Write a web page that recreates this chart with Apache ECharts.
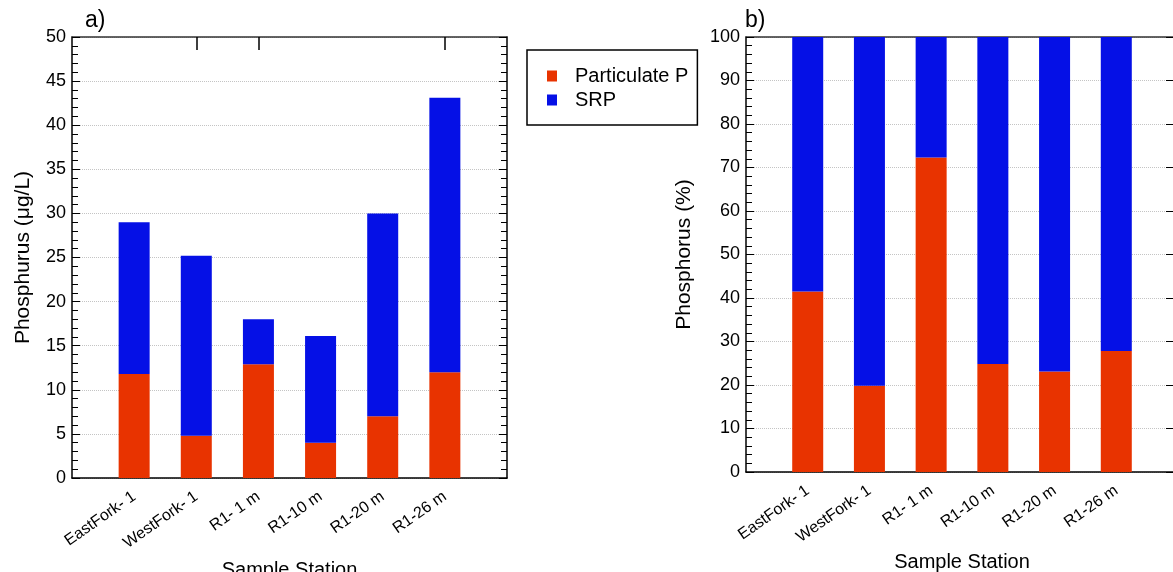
<!DOCTYPE html>
<html>
<head>
<meta charset="utf-8">
<script src="https://cdn.jsdelivr.net/npm/echarts@6/dist/echarts.min.js"></script>
<style>
  html, body { margin: 0; padding: 0; background: #fff; }
  #main { width: 1173px; height: 572px; }
</style>
</head>
<body>
<div id="main"></div>
<script>
// stations (blank slots at both ends keep the half-gap seen in the figure)
const stations = ['EastFork- 1', 'WestFork- 1', 'R1- 1 m', 'R1-10 m', 'R1-20 m', 'R1-26 m'];
const cats = [''].concat(stations, ['']);

// a) concentrations, µg/L
const particulateUg = [11.8, 4.8, 12.9, 4.0, 7.0, 12.0];
const srpUg = [17.2, 20.4, 5.1, 12.1, 23.0, 31.1];

// b) percent of total
const particulatePct = [41.5, 19.8, 72.3, 24.8, 23.1, 27.8];
const srpPct = [58.5, 80.2, 27.7, 75.2, 76.9, 72.2];

// stray tick marks on the top edge of panel a
const topTickSlots = [2, 3, 6];

const RED = '#e83300';
const BLUE = '#0510e6';
const FONT = 'Liberation Sans, Arial, sans-serif';

function pad(arr) { return ['-'].concat(arr, ['-']); }

function bottomAxis(grid, gap) {
  return {
    type: 'category', gridIndex: grid, data: cats, boundaryGap: false, position: 'bottom',
    axisLine: { onZero: false, lineStyle: { color: '#000', width: 1.5 } },
    axisTick: { show: false },
    axisLabel: { interval: 0, rotate: 35, fontSize: 16, color: '#000', fontFamily: FONT, margin: 17 },
    name: 'Sample Station', nameLocation: 'middle', nameGap: gap,
    nameTextStyle: { fontSize: 20, color: '#000', fontFamily: FONT }
  };
}
function topAxis(grid, slots) {
  return {
    type: 'category', gridIndex: grid, data: cats, boundaryGap: false, position: 'top',
    axisLine: { onZero: false, lineStyle: { color: '#333', width: 1.5 } },
    axisTick: {
      show: slots.length > 0, inside: true, length: 13,
      interval: function (idx) { return slots.indexOf(idx) >= 0; },
      lineStyle: { color: '#000', width: 1.5 }
    },
    axisLabel: { show: false }
  };
}
function leftAxis(grid, max, step, name, gap) {
  return {
    type: 'value', gridIndex: grid, min: 0, max: max, interval: step,
    axisLine: { show: true, lineStyle: { color: '#000', width: 1.5 } },
    axisTick: { show: true, inside: true, length: 8, lineStyle: { color: '#000' } },
    minorTick: { show: true, splitNumber: 5, length: 6, lineStyle: { color: '#000' } },
    axisLabel: { fontSize: 18, color: '#000', fontFamily: FONT, margin: 6 },
    splitLine: { show: true, lineStyle: { type: 'dotted', color: '#c4c4c4' } },
    name: name, nameLocation: 'middle', nameRotate: 90, nameGap: gap,
    nameTextStyle: { fontSize: 21, color: '#000', fontFamily: FONT }
  };
}
function rightAxis(grid, max, step, minor, tickLen) {
  return {
    type: 'value', gridIndex: grid, min: 0, max: max, interval: step, position: 'right',
    axisLine: { show: true, lineStyle: { color: '#000', width: 1.5 } },
    axisTick: { show: true, inside: true, length: tickLen, lineStyle: { color: '#000' } },
    minorTick: { show: minor, splitNumber: 5, length: 6, lineStyle: { color: '#000' } },
    axisLabel: { show: false },
    splitLine: { show: false }
  };
}
function bar(name, data, xi, yi, stack, color) {
  return {
    name: name, type: 'bar', stack: stack, data: pad(data),
    xAxisIndex: xi, yAxisIndex: yi, barWidth: 31,
    itemStyle: { color: color }
  };
}

const chart = echarts.init(document.getElementById('main'));
chart.setOption({
  animation: false,
  textStyle: { fontFamily: FONT },
  title: [
    { text: 'a)', left: 80, top: 4, textStyle: { fontSize: 23, fontWeight: 'normal', color: '#000', fontFamily: FONT } },
    { text: 'b)', left: 740, top: 4, textStyle: { fontSize: 23, fontWeight: 'normal', color: '#000', fontFamily: FONT } }
  ],
  legend: {
    orient: 'vertical', left: 527, top: 50,
    padding: [16, 9, 15, 20], itemGap: 4,
    borderColor: '#000', borderWidth: 1.5,
    icon: 'rect', itemWidth: 10, itemHeight: 11,
    textStyle: { fontSize: 20, color: '#000', fontFamily: FONT, padding: [0, 0, 0, 13] },
    data: ['Particulate P', 'SRP']
  },
  grid: [
    { left: 72, top: 37, width: 435, height: 441, outerBoundsMode: 'none' },
    { left: 746, top: 37, width: 432, height: 435, outerBoundsMode: 'none' }
  ],
  xAxis: [bottomAxis(0, 82), topAxis(0, topTickSlots), bottomAxis(1, 80), topAxis(1, [])],
  yAxis: [
    leftAxis(0, 50, 5, 'Phosphurus (\u03bcg/L)', 38),
    rightAxis(0, 50, 5, true, 8),
    leftAxis(1, 100, 10, 'Phosphorus (%)', 51),
    rightAxis(1, 100, 10, false, 12)
  ],
  series: [
    bar('Particulate P', particulateUg, 0, 0, 'a', RED),
    bar('SRP', srpUg, 0, 0, 'a', BLUE),
    bar('Particulate P', particulatePct, 2, 2, 'b', RED),
    bar('SRP', srpPct, 2, 2, 'b', BLUE)
  ]
});
</script>
</body>
</html>
